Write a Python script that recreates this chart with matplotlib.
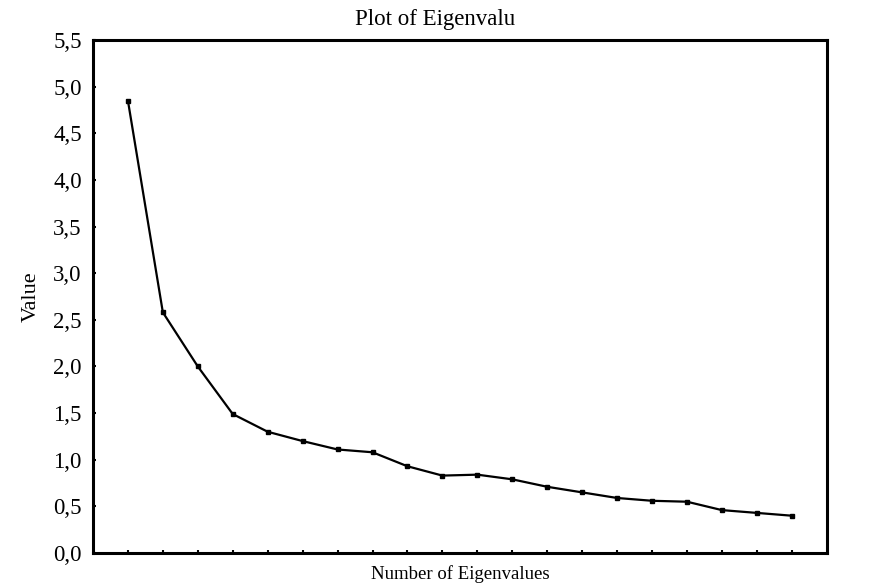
import matplotlib
matplotlib.use("Agg")
import matplotlib.pyplot as plt
import numpy as np

plt.rcParams['font.family'] = ['Liberation Serif', 'DejaVu Serif']

# eigenvalues
number = list(range(1, 21))
value = [4.85, 2.58, 2.00, 1.49, 1.30, 1.20, 1.11, 1.08, 0.93, 0.83,
         0.84, 0.79, 0.71, 0.65, 0.59, 0.56, 0.55, 0.46, 0.43, 0.40]

ytick_vals = [0.0, 0.5, 1.0, 1.5, 2.0, 2.5, 3.0, 3.5, 4.0, 4.5, 5.0, 5.5]
ytick_labels = ['0,0', '0,5', '1,0', '1,5', '2,0', '2,5', '3,0', '3,5',
                '4,0', '4,5', '5,0', '5,5']

fig = plt.figure(figsize=(8.73, 5.88), dpi=100)
ax = fig.add_axes([0.1065, 0.0595, 0.8405, 0.8725])

ax.plot(number, value, color='black', linewidth=1.6,
        marker='s', markersize=2.5, markerfacecolor='black')

ax.set_xlim(0, 21)
ax.set_ylim(0, 5.5)
ax.set_xticks(number)
ax.tick_params(axis='x', labelbottom=False)
ax.set_yticks(ytick_vals)
ax.set_yticklabels(ytick_labels)
ax.tick_params(axis='both', direction='in', length=2, width=1.5,
               labelsize=16.5, pad=8)

for s in ax.spines.values():
    s.set_linewidth(2.2)

# title in the scan sits left of the axes centre
ax.set_title('Plot of Eigenvalu', fontsize=16.5, pad=11, x=0.466)
ax.set_xlabel('Number of Eigenvalues', fontsize=13.5, labelpad=9)
ax.set_ylabel('Value', fontsize=16, labelpad=9)

fig.savefig('out.png', dpi=100)
